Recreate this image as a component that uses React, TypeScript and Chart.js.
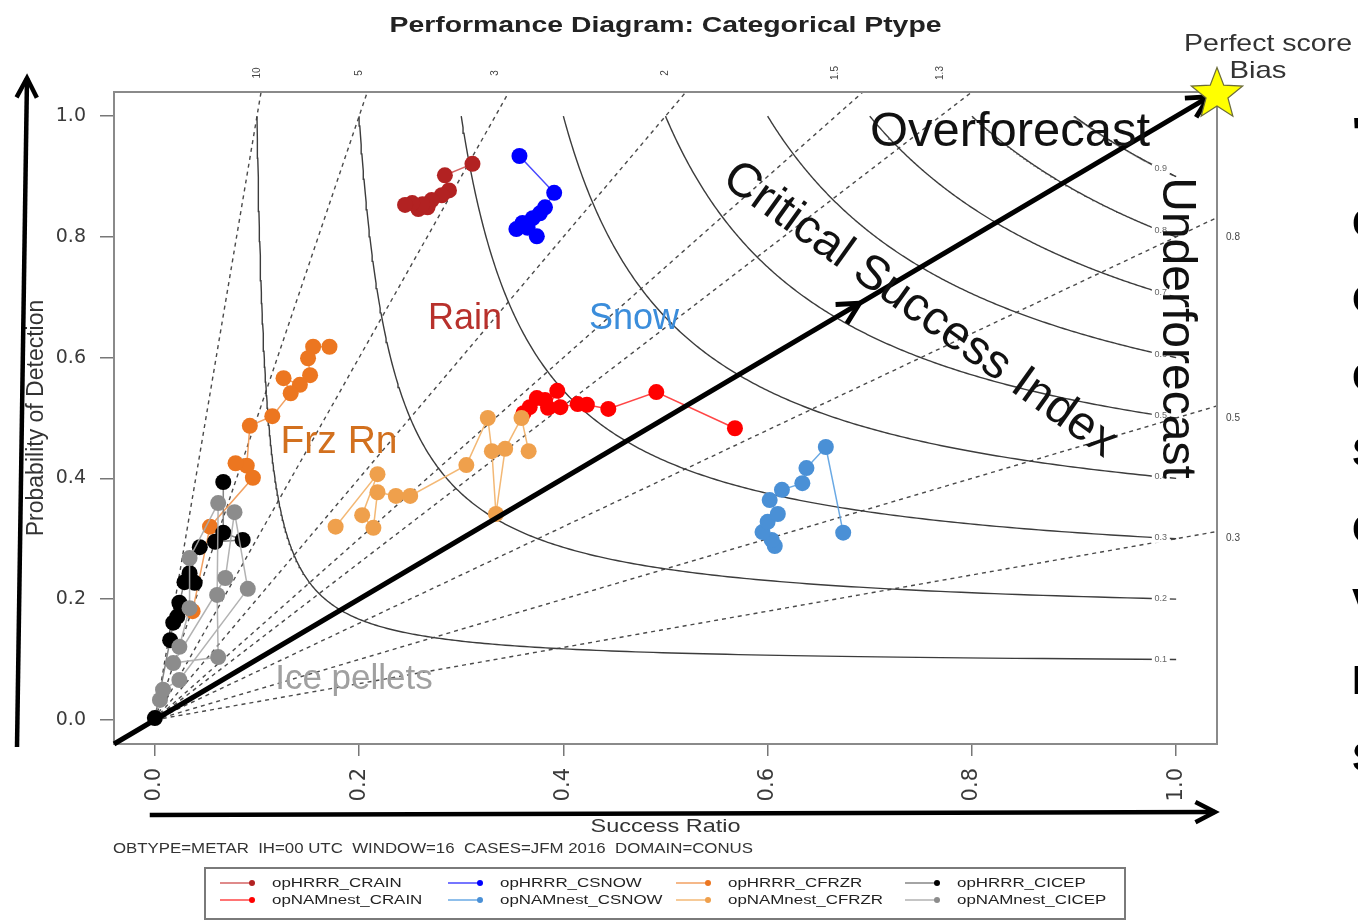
import React, { useEffect, useRef } from "react";
import { Chart, registerables } from "chart.js";

Chart.register(...registerables);

// Axis ticks and reference levels
const xTickValues = [0, 0.2, 0.4, 0.6, 0.8, 1.0];
const yTickValues = [0, 0.2, 0.4, 0.6, 0.8, 1.0];
const biasLevels = [0.3, 0.5, 0.8, 1, 1.3, 1.5, 2, 3, 5, 10];
const csiLevels = [0.1, 0.2, 0.3, 0.4, 0.5, 0.6, 0.7, 0.8, 0.9];

// Series names (legend order)
const seriesNames = [
  "opHRRR_CRAIN",
  "opNAMnest_CRAIN",
  "opHRRR_CSNOW",
  "opNAMnest_CSNOW",
  "opHRRR_CFRZR",
  "opNAMnest_CFRZR",
  "opHRRR_CICEP",
  "opNAMnest_CICEP",
];

// Success ratio / probability of detection per forecast
const hrrrRainSR = [0.311, 0.284, 0.288, 0.281, 0.271, 0.267, 0.258, 0.262, 0.252, 0.245];
const hrrrRainPOD = [0.921, 0.902, 0.877, 0.869, 0.861, 0.849, 0.846, 0.854, 0.856, 0.853];

const namRainSR = [0.361, 0.367, 0.374, 0.382, 0.385, 0.394, 0.397, 0.414, 0.423, 0.444, 0.491, 0.568];
const namRainPOD = [0.508, 0.518, 0.533, 0.53, 0.517, 0.545, 0.518, 0.523, 0.522, 0.515, 0.543, 0.483];

const hrrrSnowSR = [0.357, 0.391, 0.382, 0.377, 0.37, 0.36, 0.354, 0.365, 0.374];
const hrrrSnowPOD = [0.934, 0.873, 0.849, 0.839, 0.831, 0.823, 0.813, 0.815, 0.801];

const namSnowSR = [0.607, 0.604, 0.595, 0.6, 0.61, 0.602, 0.614, 0.634, 0.638, 0.657, 0.674];
const namSnowPOD = [0.288, 0.298, 0.311, 0.328, 0.341, 0.364, 0.381, 0.392, 0.417, 0.452, 0.31];

const hrrrFrzrSR = [0.171, 0.155, 0.15, 0.152, 0.142, 0.126, 0.133, 0.115, 0.093, 0.09, 0.079, 0.096, 0.054, 0.037];
const hrrrFrzrPOD = [0.618, 0.618, 0.599, 0.571, 0.555, 0.566, 0.541, 0.503, 0.487, 0.421, 0.425, 0.401, 0.32, 0.18];

const namFrzrSR = [0.177, 0.218, 0.203, 0.214, 0.218, 0.236, 0.25, 0.305, 0.326, 0.33, 0.334, 0.343, 0.359, 0.366];
const namFrzrPOD = [0.32, 0.407, 0.339, 0.318, 0.377, 0.371, 0.371, 0.422, 0.5, 0.445, 0.341, 0.449, 0.5, 0.445];

const hrrrIcepSR = [0.067, 0.067, 0.086, 0.059, 0.044, 0.034, 0.039, 0.029, 0.024, 0.022, 0.018, 0.015, 0.0];
const hrrrIcepPOD = [0.394, 0.31, 0.298, 0.295, 0.286, 0.243, 0.227, 0.228, 0.194, 0.171, 0.161, 0.132, 0.003];

const namIcepSR = [0.005, 0.008, 0.024, 0.091, 0.078, 0.069, 0.018, 0.062, 0.061, 0.062, 0.034, 0.034, 0.024];
const namIcepPOD = [0.033, 0.05, 0.066, 0.217, 0.344, 0.235, 0.094, 0.104, 0.207, 0.359, 0.268, 0.185, 0.121];

const seriesSR = [hrrrRainSR, namRainSR, hrrrSnowSR, namSnowSR, hrrrFrzrSR, namFrzrSR, hrrrIcepSR, namIcepSR];
const seriesPOD = [hrrrRainPOD, namRainPOD, hrrrSnowPOD, namSnowPOD, hrrrFrzrPOD, namFrzrPOD, hrrrIcepPOD, namIcepPOD];

// Styles
const pointColors = ["#b22222", "#ff0000", "#0000ff", "#4a90d6", "#ec7620", "#efa04c", "#000000", "#8c8c8c"];
const lineColors = [
  "rgba(205,70,70,0.85)",
  "rgba(255,50,50,0.9)",
  "rgba(40,40,255,0.85)",
  "rgba(90,160,225,0.9)",
  "rgba(240,150,80,0.9)",
  "rgba(242,180,110,0.95)",
  "rgba(120,120,120,0.9)",
  "rgba(170,170,170,0.9)",
];

// Overlay annotations
const phaseLabels = ["Rain", "Snow", "Frz Rn", "Ice pellets"];
const phaseColors = ["#b8312c", "#3b8ddb", "#d2701e", "#a0a0a0"];
const sideGlyphs = ["'", "C", "O", "C", "S", "C", "V", "I", "S"];

const FONT = "'Liberation Sans', Arial, Helvetica, sans-serif";

type TOpt = {
  font: string;
  color: string;
  align?: CanvasTextAlign;
  baseline?: CanvasTextBaseline;
  rot?: number;
  sx?: number;
  width?: number;
};

function drawText(ctx: CanvasRenderingContext2D, s: string, x: number, y: number, o: TOpt) {
  ctx.save();
  ctx.font = o.font;
  let sx = o.sx ?? 1;
  if (o.width) sx = o.width / ctx.measureText(s).width;
  ctx.translate(x, y);
  ctx.scale(sx, 1);
  if (o.rot) ctx.rotate(o.rot);
  ctx.fillStyle = o.color;
  ctx.textAlign = o.align ?? "center";
  ctx.textBaseline = o.baseline ?? "middle";
  ctx.fillText(s, 0, 0);
  ctx.restore();
}

function chevron(ctx: CanvasRenderingContext2D, tx: number, ty: number, ang: number, len: number, spread: number) {
  ctx.beginPath();
  ctx.moveTo(tx - len * Math.cos(ang - spread), ty - len * Math.sin(ang - spread));
  ctx.lineTo(tx, ty);
  ctx.lineTo(tx - len * Math.cos(ang + spread), ty - len * Math.sin(ang + spread));
  ctx.stroke();
}

function arrow(ctx: CanvasRenderingContext2D, x1: number, y1: number, x2: number, y2: number, w: number) {
  ctx.save();
  ctx.strokeStyle = "#000";
  ctx.lineWidth = w;
  ctx.lineCap = "butt";
  ctx.lineJoin = "miter";
  ctx.beginPath();
  ctx.moveTo(x1, y1);
  ctx.lineTo(x2, y2);
  ctx.stroke();
  chevron(ctx, x2, y2, Math.atan2(y2 - y1, x2 - x1), 22, 0.48);
  ctx.restore();
}

// CSI contour: (1/SR - 1) + (1/POD - 1) = 1/CSI - 1
function csiCurve(c: number) {
  const k = 1 / c - 1;
  const pts: { x: number; y: number }[] = [];
  const n = 240;
  for (let i = 0; i <= n; i++) {
    const t = i / n;
    pts.push({ x: 1 / (1 + k * t), y: 1 / (1 + k * (1 - t)) });
  }
  return pts;
}

function biasLine(b: number) {
  const sr = b >= 1 ? 1.04 / b : 1.04;
  return [
    { x: 0, y: 0 },
    { x: sr, y: b * sr },
  ];
}

const decorPlugin = {
  id: "decor",
  afterDatasetsDraw(chart: any) {
    const ctx: CanvasRenderingContext2D = chart.ctx;
    const a = chart.chartArea;
    const xs = chart.scales.x;
    const ys = chart.scales.y;
    const X = (v: number) => xs.getPixelForValue(v);
    const Y = (v: number) => ys.getPixelForValue(v);

    // plot frame
    ctx.save();
    ctx.strokeStyle = "#8a8a8a";
    ctx.lineWidth = 2;
    ctx.strokeRect(a.left, a.top, a.right - a.left, a.bottom - a.top);
    ctx.restore();

    // CSI contour labels
    csiLevels.forEach((c) => {
      const sr = 0.985;
      const pod = 1 / (1 / c - 1 / sr + 1);
      const px = X(sr);
      const py = Y(pod);
      ctx.save();
      ctx.fillStyle = "#fff";
      ctx.fillRect(px - 9, py - 5, 18, 10);
      ctx.restore();
      drawText(ctx, c.toFixed(1), px, py, { font: `9px ${FONT}`, color: "#666" });
    });

    // bias labels
    biasLevels
      .filter((b) => b > 1)
      .forEach((b) =>
        drawText(ctx, String(b), X(1 / b), a.top - 19, { font: `10px ${FONT}`, color: "#444", rot: -Math.PI / 2 })
      );
    biasLevels
      .filter((b) => b < 1)
      .forEach((b) => drawText(ctx, b.toFixed(1), a.right + 16, Y(b), { font: `10px ${FONT}`, color: "#444" }));

    // title and axis titles
    drawText(ctx, "Performance Diagram: Categorical Ptype", (a.left + a.right) / 2, 26, {
      font: `bold 22px ${FONT}`,
      color: "#222",
      width: 552,
    });
    drawText(ctx, "Success Ratio", (a.left + a.right) / 2, 827, { font: `19px ${FONT}`, color: "#333", width: 150 });
    drawText(ctx, "Probability of Detection", 37, 418, { font: `23px ${FONT}`, color: "#333", rot: -Math.PI / 2 });
    drawText(ctx, "OBTYPE=METAR  IH=00 UTC  WINDOW=16  CASES=JFM 2016  DOMAIN=CONUS", 113, 849, {
      font: `14px ${FONT}`,
      color: "#333",
      align: "left",
      width: 640,
    });

    // legend
    ctx.save();
    ctx.strokeStyle = "#7a7a7a";
    ctx.lineWidth = 2;
    ctx.strokeRect(205, 868, 920, 51);
    ctx.restore();
    const colX = [220, 448, 676, 905];
    const rowY = [883, 900];
    seriesNames.forEach((name, i) => {
      const cx = colX[Math.floor(i / 2)];
      const cy = rowY[i % 2];
      ctx.save();
      ctx.strokeStyle = lineColors[i];
      ctx.lineWidth = 1.5;
      ctx.beginPath();
      ctx.moveTo(cx, cy);
      ctx.lineTo(cx + 32, cy);
      ctx.stroke();
      ctx.fillStyle = pointColors[i];
      ctx.beginPath();
      ctx.arc(cx + 32, cy, 3, 0, Math.PI * 2);
      ctx.fill();
      ctx.restore();
      drawText(ctx, name, cx + 52, cy, { font: `13px ${FONT}`, color: "#222", align: "left", sx: 1.3 });
    });

    // diagonal arrow with mid-way head
    ctx.save();
    ctx.strokeStyle = "#000";
    ctx.lineWidth = 5;
    const x0 = X(-0.04), y0 = Y(-0.04);
    const x1 = X(1.032), y1 = Y(1.032);
    ctx.beginPath();
    ctx.moveTo(x0, y0);
    ctx.lineTo(x1, y1);
    ctx.stroke();
    const ang = Math.atan2(y1 - y0, x1 - x0);
    chevron(ctx, x1, y1, ang, 24, 0.48);
    chevron(ctx, X(0.69), Y(0.69), ang, 24, 0.48);
    ctx.restore();

    // axis arrows
    arrow(ctx, a.left - 97, a.bottom + 3, a.left - 87, a.top - 14, 4.5);
    arrow(ctx, X(-0.005), a.bottom + 71, X(1.038), a.bottom + 68, 4.5);

    // perfect score star
    const scx = X(1.04), scy = Y(1.036);
    const R = 27, r = 11.5;
    ctx.save();
    ctx.beginPath();
    for (let i = 0; i < 10; i++) {
      const rad = i % 2 === 0 ? R : r;
      const t = -Math.PI / 2 + (i * Math.PI) / 5;
      const px = scx + rad * Math.cos(t);
      const py = scy + rad * Math.sin(t);
      if (i === 0) ctx.moveTo(px, py);
      else ctx.lineTo(px, py);
    }
    ctx.closePath();
    ctx.fillStyle = "#ffff00";
    ctx.fill();
    ctx.strokeStyle = "#6b6b3a";
    ctx.lineWidth = 1.2;
    ctx.stroke();
    ctx.restore();
    drawText(ctx, "Perfect score", 1268, 44, { font: `24px ${FONT}`, color: "#333", width: 168 });
    drawText(ctx, "Bias", 1258, 71, { font: `24px ${FONT}`, color: "#333", width: 57 });

    // region annotations
    drawText(ctx, "Overforecast", 1010, 133, { font: `48px ${FONT}`, color: "#111", width: 280 });
    drawText(ctx, "Critical Success Index", 920, 310, {
      font: `48px ${FONT}`,
      color: "#111",
      rot: Math.atan2(290, 405),
    });
    drawText(ctx, "Underforecast", 1176, 328, { font: `48px ${FONT}`, color: "#111", rot: Math.PI / 2 });

    // precipitation type labels
    drawText(ctx, phaseLabels[0], 465, 319, { font: `36px ${FONT}`, color: phaseColors[0] });
    drawText(ctx, phaseLabels[1], 634, 319, { font: `36px ${FONT}`, color: phaseColors[1] });
    drawText(ctx, phaseLabels[2], 339, 442, { font: `39px ${FONT}`, color: phaseColors[2] });
    drawText(ctx, phaseLabels[3], 354, 679, { font: `35px ${FONT}`, color: phaseColors[3] });

    // text running in from the right edge
    const glyphY = [135, 226, 302, 380, 455, 532, 606, 683, 760];
    sideGlyphs.forEach((g, i) =>
      drawText(ctx, g, 1352, glyphY[i], { font: `bold 40px ${FONT}`, color: "#000", align: "left" })
    );
  },
};

export default function App() {
  const ref = useRef<HTMLCanvasElement | null>(null);

  useEffect(() => {
    if (!ref.current) return;

    const dataSets: any[] = seriesNames.map((name, i) => ({
      label: name,
      data: seriesSR[i].map((v, j) => ({ x: v, y: seriesPOD[i][j] })),
      showLine: true,
      borderColor: lineColors[i],
      borderWidth: 1.5,
      pointRadius: 8,
      pointBorderWidth: 0,
      pointBackgroundColor: pointColors[i],
      pointBorderColor: pointColors[i],
      pointHoverRadius: 8,
      order: 20 - i,
    }));

    const csiSets = csiLevels.map((c) => ({
      label: `CSI ${c}`,
      data: csiCurve(c),
      showLine: true,
      borderColor: "#3c3c3c",
      borderWidth: 1.4,
      pointRadius: 0,
      order: 100,
    }));

    const biasSets = biasLevels.map((b) => ({
      label: `bias ${b}`,
      data: biasLine(b),
      showLine: true,
      borderColor: "#4a4a4a",
      borderWidth: 1.4,
      borderDash: [4, 4],
      pointRadius: 0,
      order: 101,
    }));

    const chart = new Chart(ref.current, {
      type: "scatter",
      data: { datasets: [...dataSets, ...csiSets, ...biasSets] },
      plugins: [decorPlugin],
      options: {
        responsive: false,
        devicePixelRatio: 1,
        animation: false,
        events: [],
        layout: { padding: { left: 0, top: 92, right: 141, bottom: 0 } },
        plugins: {
          legend: { display: false },
          title: { display: false },
          tooltip: { enabled: false },
        },
        scales: {
          x: {
            type: "linear",
            min: -0.04,
            max: 1.04,
            afterBuildTicks: (s: any) => {
              s.ticks = xTickValues.map((v) => ({ value: v }));
            },
            afterFit: (s: any) => {
              s.height = 178;
            },
            ticks: {
              callback: (v: any) => Number(v).toFixed(1),
              minRotation: 90,
              maxRotation: 90,
              autoSkip: false,
              padding: 12,
              color: "#3a3a3a",
              font: { family: "'DejaVu Sans', sans-serif", size: 21 },
            },
            grid: { drawOnChartArea: false, tickLength: 12, color: "#777", lineWidth: 1.5 },
            border: { display: false },
          },
          y: {
            type: "linear",
            min: -0.04,
            max: 1.04,
            afterBuildTicks: (s: any) => {
              s.ticks = yTickValues.map((v) => ({ value: v }));
            },
            afterFit: (s: any) => {
              s.width = 114;
            },
            ticks: {
              callback: (v: any) => Number(v).toFixed(1),
              autoSkip: false,
              padding: 14,
              color: "#3a3a3a",
              font: { family: "'DejaVu Sans', sans-serif", size: 19 },
            },
            grid: { drawOnChartArea: false, tickLength: 14, color: "#777", lineWidth: 1.5 },
            border: { display: false },
          },
        },
      } as any,
    });

    return () => chart.destroy();
  }, []);

  return (
    <div
      style={{
        position: "fixed",
        left: 0,
        top: 0,
        width: 1358,
        height: 922,
        overflow: "hidden",
        background: "#fff",
      }}
    >
      <canvas ref={ref} width={1358} height={922} style={{ display: "block", width: 1358, height: 922 }} />
    </div>
  );
}
